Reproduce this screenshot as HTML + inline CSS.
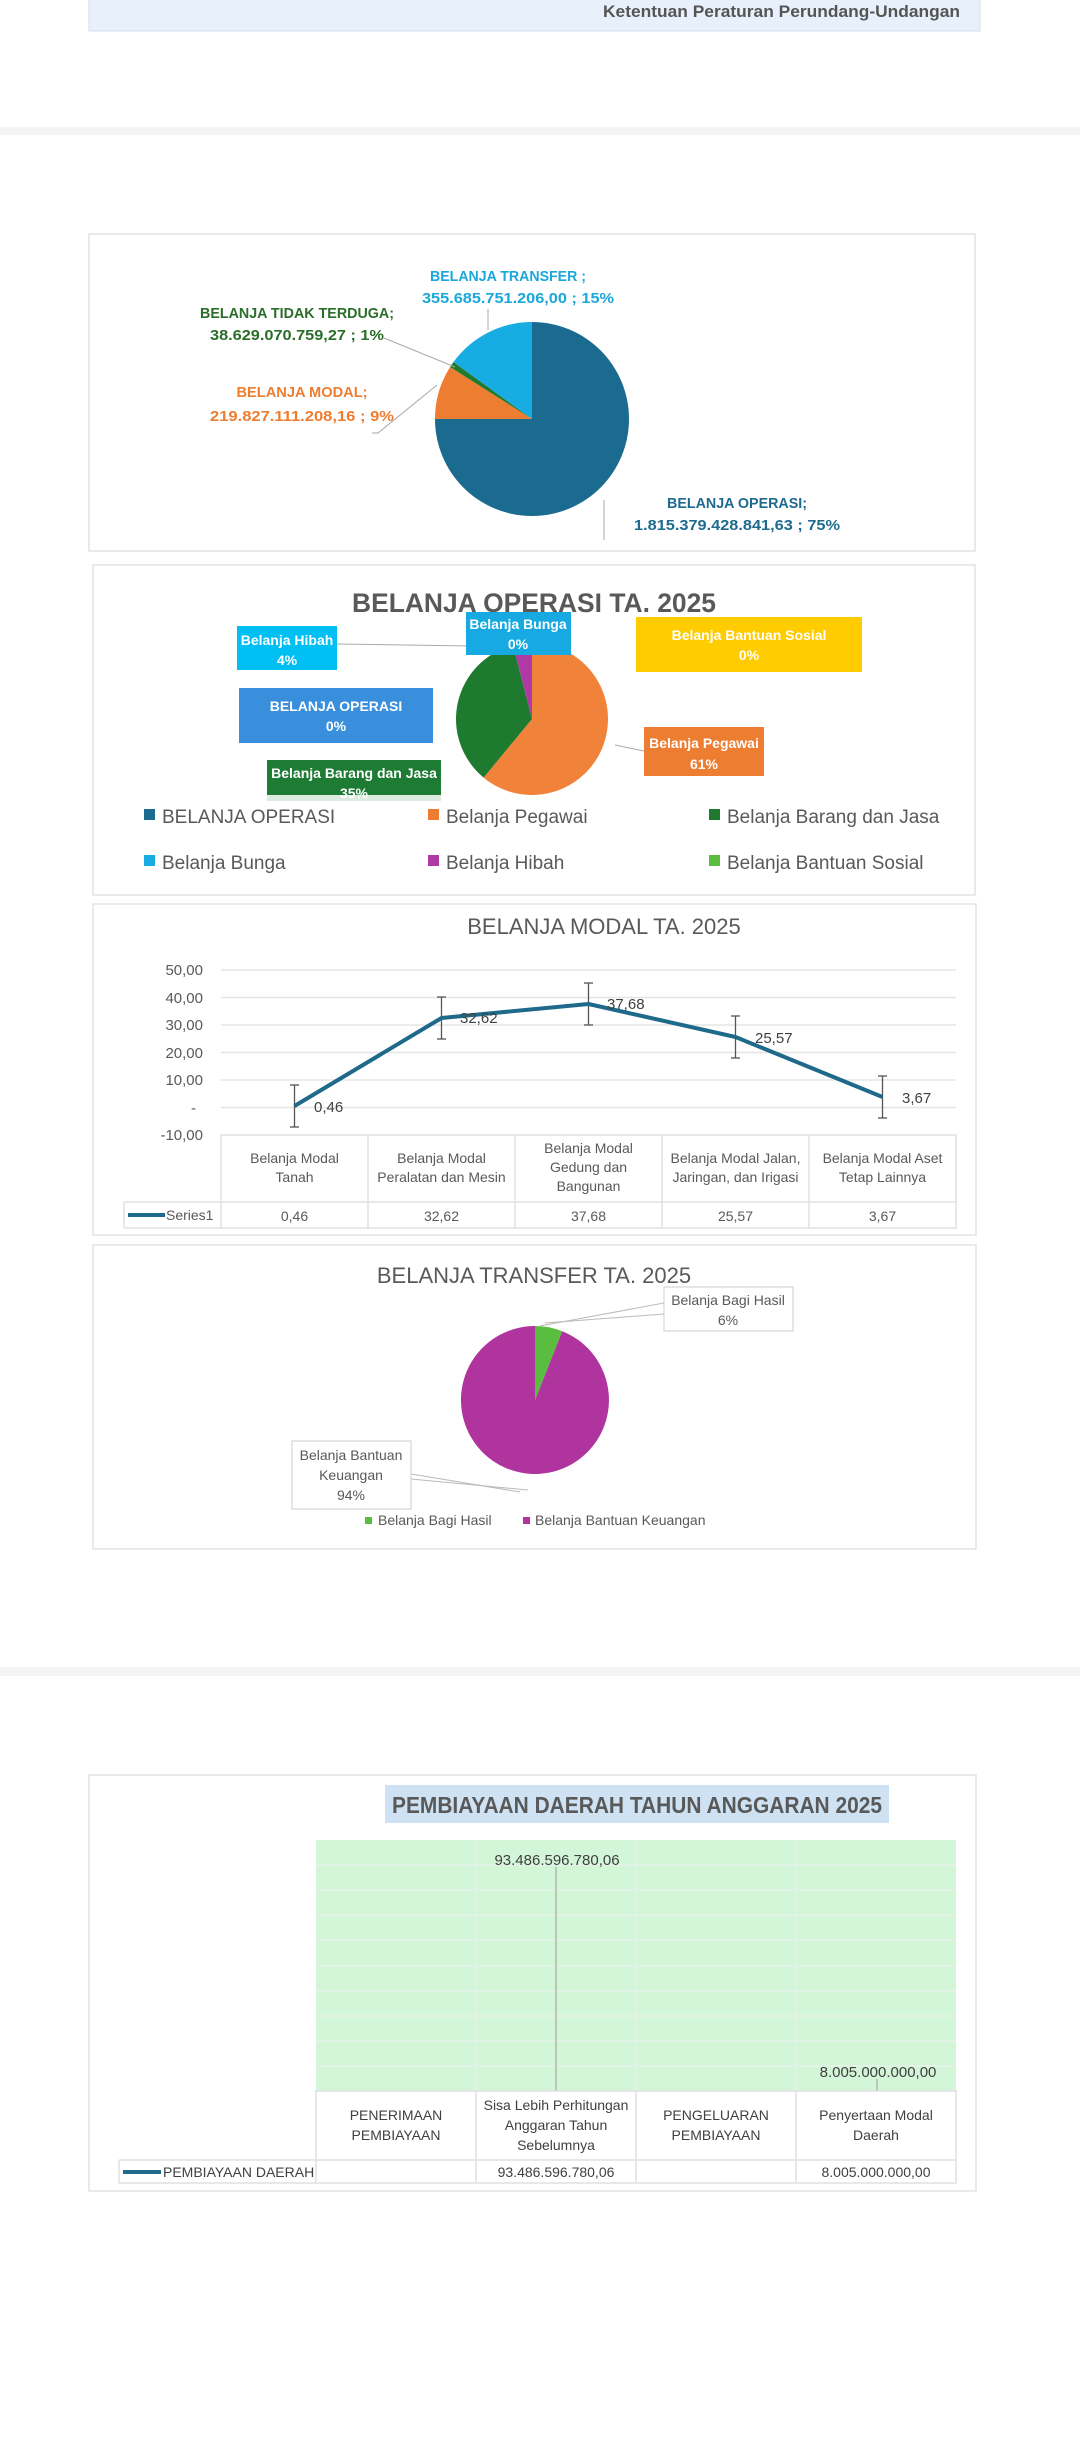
<!DOCTYPE html>
<html><head><meta charset="utf-8"><style>
html,body{margin:0;padding:0;background:#fff;}
svg{display:block;font-family:"Liberation Sans",sans-serif;}
</style></head><body>
<svg width="1080" height="2460" viewBox="0 0 1080 2460" xmlns="http://www.w3.org/2000/svg">
<rect width="1080" height="2460" fill="#fff"/>
<rect x="89" y="-2" width="891" height="33" fill="#e8f1fb" stroke="#d4dfea"/>
<text x="960" y="17" text-anchor="end" font-size="17" font-weight="bold" fill="#555" textLength="357" lengthAdjust="spacingAndGlyphs">Ketentuan Peraturan Perundang-Undangan</text>
<rect x="0" y="127" width="1080" height="8" fill="#f4f4f4"/>

<!-- Chart 1 -->
<rect x="89" y="234" width="886" height="317" fill="#fff" stroke="#e3e3e3" stroke-width="1.5"/>
<path d="M532,419 L532,322 A97,97 0 1 1 435,419 Z" fill="#1b6a8f"/>
<path d="M532,419 L435,419 A97,97 0 0 1 450.1,367 Z" fill="#ed7d31"/>
<path d="M532,419 L450.1,367 A97,97 0 0 1 453.5,362 Z" fill="#1f7a2e"/>
<path d="M532,419 L453.5,362 A97,97 0 0 1 532,322 Z" fill="#17ade3"/>
<g stroke="#aaa" stroke-width="1" fill="none">
<line x1="604" y1="500" x2="604" y2="540"/>
<line x1="488" y1="309" x2="488" y2="330"/>
<polyline points="384,338 455,367"/>
<polyline points="372,433 378,433 437,385"/>
</g>
<g font-size="15" font-weight="bold" text-anchor="middle" lengthAdjust="spacingAndGlyphs">
<text x="508" y="281" fill="#1aa7d9" textLength="156" lengthAdjust="spacingAndGlyphs">BELANJA TRANSFER ;</text>
<text x="518" y="303" fill="#1aa7d9" textLength="192" lengthAdjust="spacingAndGlyphs">355.685.751.206,00 ; 15%</text>
<text x="297" y="318" fill="#2a6e2a" textLength="194" lengthAdjust="spacingAndGlyphs">BELANJA TIDAK TERDUGA;</text>
<text x="297" y="340" fill="#2a6e2a" textLength="174" lengthAdjust="spacingAndGlyphs">38.629.070.759,27 ; 1%</text>
<text x="302" y="397" fill="#ed7d31" textLength="131" lengthAdjust="spacingAndGlyphs">BELANJA MODAL;</text>
<text x="302" y="421" fill="#ed7d31" textLength="184" lengthAdjust="spacingAndGlyphs">219.827.111.208,16 ; 9%</text>
<text x="737" y="508" fill="#1f6a8f" textLength="140" lengthAdjust="spacingAndGlyphs">BELANJA OPERASI;</text>
<text x="737" y="530" fill="#1f6a8f" textLength="206" lengthAdjust="spacingAndGlyphs">1.815.379.428.841,63 ; 75%</text>
</g>

<!-- Chart 2 -->
<rect x="93" y="565" width="882" height="330" fill="#fff" stroke="#e3e3e3" stroke-width="1.5"/>
<text x="534" y="612" text-anchor="middle" font-size="27" font-weight="bold" fill="#595959" textLength="364" lengthAdjust="spacingAndGlyphs">BELANJA OPERASI TA. 2025</text>
<path d="M532,719 L532,643 A76,76 0 1 1 483.6,777.6 Z" fill="#f0823a"/>
<path d="M532,719 L483.6,777.6 A76,76 0 0 1 513.1,645.4 Z" fill="#1e7a2e"/>
<path d="M532,719 L513.1,645.4 A76,76 0 0 1 532,643 Z" fill="#b03aa5"/>
<g stroke="#aaa" fill="none"><line x1="337" y1="644" x2="470" y2="646"/><line x1="615" y1="745" x2="644" y2="751"/></g>
<g font-size="14" font-weight="bold" fill="#fff" text-anchor="middle">
<rect x="237" y="626" width="100" height="44" fill="#00bff3"/>
<text x="287" y="645">Belanja Hibah</text><text x="287" y="665">4%</text>
<rect x="466" y="612" width="105" height="43" fill="#17a9e1"/>
<text x="518" y="629">Belanja Bunga</text><text x="518" y="649">0%</text>
<rect x="636" y="617" width="226" height="55" fill="#ffcc00"/>
<text x="749" y="640">Belanja Bantuan Sosial</text><text x="749" y="660">0%</text>
<rect x="239" y="688" width="194" height="55" fill="#3a8fdc"/>
<text x="336" y="711">BELANJA OPERASI</text><text x="336" y="731">0%</text>
<rect x="644" y="727" width="120" height="49" fill="#ed7d31"/>
<text x="704" y="748">Belanja Pegawai</text><text x="704" y="769">61%</text>
<rect x="267" y="760" width="174" height="41" fill="#1e7b34"/>
<text x="354" y="778">Belanja Barang dan Jasa</text><text x="354" y="798">35%</text>
</g>
<rect x="112" y="795" width="845" height="95" fill="#fff" fill-opacity="0.85"/>
<g font-size="19" fill="#595959">
<rect x="144" y="809" width="11" height="11" fill="#1b6a8f"/><text x="162" y="823">BELANJA OPERASI</text>
<rect x="428" y="809" width="11" height="11" fill="#ed7d31"/><text x="446" y="823">Belanja Pegawai</text>
<rect x="709" y="809" width="11" height="11" fill="#1e7a2e"/><text x="727" y="823">Belanja Barang dan Jasa</text>
<rect x="144" y="855" width="11" height="11" fill="#17ade3"/><text x="162" y="869">Belanja Bunga</text>
<rect x="428" y="855" width="11" height="11" fill="#b03aa5"/><text x="446" y="869">Belanja Hibah</text>
<rect x="709" y="855" width="11" height="11" fill="#5bbd3f"/><text x="727" y="869">Belanja Bantuan Sosial</text>
</g>

<!-- Chart 3 -->
<rect x="93" y="904" width="883" height="331" fill="#fff" stroke="#e3e3e3" stroke-width="1.5"/>
<text x="604" y="934" text-anchor="middle" font-size="22" fill="#595959">BELANJA MODAL TA. 2025</text>
<g stroke="#e5e5e5" stroke-width="1.5">
<line x1="221" y1="970" x2="956" y2="970"/><line x1="221" y1="997.5" x2="956" y2="997.5"/>
<line x1="221" y1="1025" x2="956" y2="1025"/><line x1="221" y1="1052.5" x2="956" y2="1052.5"/>
<line x1="221" y1="1080" x2="956" y2="1080"/><line x1="221" y1="1107.5" x2="956" y2="1107.5"/>
</g>
<g font-size="15" fill="#595959" text-anchor="end">
<text x="203" y="975">50,00</text><text x="203" y="1003">40,00</text><text x="203" y="1030">30,00</text>
<text x="203" y="1058">20,00</text><text x="203" y="1085">10,00</text><text x="196" y="1113">-</text><text x="203" y="1140">-10,00</text>
</g>
<g stroke="#e0e0e0" stroke-width="1.5" fill="none">
<rect x="221" y="1135" width="735" height="93"/>
<line x1="124" y1="1202" x2="956" y2="1202"/><line x1="124" y1="1202" x2="124" y2="1228"/><line x1="124" y1="1228" x2="221" y2="1228"/>
<line x1="368" y1="1135" x2="368" y2="1228"/><line x1="515" y1="1135" x2="515" y2="1228"/>
<line x1="662" y1="1135" x2="662" y2="1228"/><line x1="809" y1="1135" x2="809" y2="1228"/>
</g>
<g stroke="#555" stroke-width="1.3">
<line x1="294.5" y1="1085" x2="294.5" y2="1127"/><line x1="290" y1="1085" x2="299" y2="1085"/><line x1="290" y1="1127" x2="299" y2="1127"/>
<line x1="441.5" y1="997" x2="441.5" y2="1039"/><line x1="437" y1="997" x2="446" y2="997"/><line x1="437" y1="1039" x2="446" y2="1039"/>
<line x1="588.5" y1="983" x2="588.5" y2="1025"/><line x1="584" y1="983" x2="593" y2="983"/><line x1="584" y1="1025" x2="593" y2="1025"/>
<line x1="735.5" y1="1016" x2="735.5" y2="1058"/><line x1="731" y1="1016" x2="740" y2="1016"/><line x1="731" y1="1058" x2="740" y2="1058"/>
<line x1="882.5" y1="1076" x2="882.5" y2="1118"/><line x1="878" y1="1076" x2="887" y2="1076"/><line x1="878" y1="1118" x2="887" y2="1118"/>
</g>
<polyline points="294.5,1106 441.5,1018 588.5,1004 735.5,1037 882.5,1097" fill="none" stroke="#1f6a8a" stroke-width="4" stroke-linejoin="round"/>
<g font-size="15" fill="#404040">
<text x="314" y="1112">0,46</text><text x="460" y="1023">32,62</text><text x="607" y="1009">37,68</text>
<text x="755" y="1043">25,57</text><text x="902" y="1103">3,67</text>
</g>
<g font-size="14" fill="#595959" text-anchor="middle">
<text x="294.5" y="1163">Belanja Modal</text><text x="294.5" y="1182">Tanah</text>
<text x="441.5" y="1163">Belanja Modal</text><text x="441.5" y="1182">Peralatan dan Mesin</text>
<text x="588.5" y="1153">Belanja Modal</text><text x="588.5" y="1172">Gedung dan</text><text x="588.5" y="1191">Bangunan</text>
<text x="735.5" y="1163">Belanja Modal Jalan,</text><text x="735.5" y="1182">Jaringan, dan Irigasi</text>
<text x="882.5" y="1163">Belanja Modal Aset</text><text x="882.5" y="1182">Tetap Lainnya</text>
<text x="294.5" y="1221">0,46</text><text x="441.5" y="1221">32,62</text><text x="588.5" y="1221">37,68</text>
<text x="735.5" y="1221">25,57</text><text x="882.5" y="1221">3,67</text>
</g>
<line x1="128" y1="1215" x2="165" y2="1215" stroke="#1f6a8a" stroke-width="4"/>
<text x="166" y="1220" font-size="14" fill="#595959">Series1</text>

<!-- Chart 4 -->
<rect x="93" y="1245" width="883" height="304" fill="#fff" stroke="#e3e3e3" stroke-width="1.5"/>
<text x="534" y="1283" text-anchor="middle" font-size="22" fill="#595959">BELANJA TRANSFER TA. 2025</text>
<path d="M535,1400 L562.2,1331.2 A74,74 0 1 1 535,1326 Z" fill="#b0349e"/>
<path d="M535,1400 L535,1326 A74,74 0 0 1 562.2,1331.2 Z" fill="#5bbd3f"/>
<g stroke="#bbb" fill="none"><polyline points="664,1303 540,1326"/><polyline points="664,1314 545,1323"/><polyline points="411,1474 520,1492"/><polyline points="411,1479 528,1490"/></g>
<rect x="664" y="1287" width="129" height="44" fill="#fff" stroke="#ccc"/>
<rect x="292" y="1441" width="119" height="68" fill="#fff" stroke="#ccc"/>
<g font-size="14" fill="#595959" text-anchor="middle">
<text x="728" y="1305">Belanja Bagi Hasil</text><text x="728" y="1325">6%</text>
<text x="351" y="1460">Belanja Bantuan</text><text x="351" y="1480">Keuangan</text><text x="351" y="1500">94%</text>
</g>
<g font-size="14" fill="#595959">
<rect x="365" y="1517" width="7" height="7" fill="#5bbd3f"/><text x="378" y="1525">Belanja Bagi Hasil</text>
<rect x="523" y="1517" width="7" height="7" fill="#b0349e"/><text x="535" y="1525">Belanja Bantuan Keuangan</text>
</g>

<rect x="0" y="1667" width="1080" height="9" fill="#f4f4f4"/>

<!-- Chart 5 -->
<rect x="89" y="1775" width="887" height="416" fill="#fff" stroke="#e3e3e3" stroke-width="1.5"/>
<rect x="385" y="1785" width="504" height="38" fill="#cfe2f3"/>
<text x="637" y="1813" text-anchor="middle" font-size="23" font-weight="bold" fill="#595959" textLength="490" lengthAdjust="spacingAndGlyphs">PEMBIAYAAN DAERAH TAHUN ANGGARAN 2025</text>
<rect x="316" y="1840" width="640" height="251" fill="#d3f6d8"/>
<g stroke="#e6f2e8" stroke-width="1.5">
<line x1="316" y1="1865" x2="956" y2="1865"/><line x1="316" y1="1890" x2="956" y2="1890"/><line x1="316" y1="1915" x2="956" y2="1915"/>
<line x1="316" y1="1940" x2="956" y2="1940"/><line x1="316" y1="1966" x2="956" y2="1966"/><line x1="316" y1="1991" x2="956" y2="1991"/>
<line x1="316" y1="2016" x2="956" y2="2016"/><line x1="316" y1="2041" x2="956" y2="2041"/><line x1="316" y1="2066" x2="956" y2="2066"/>
<line x1="476" y1="1840" x2="476" y2="2091"/><line x1="636" y1="1840" x2="636" y2="2091"/><line x1="796" y1="1840" x2="796" y2="2091"/>
</g>
<line x1="556" y1="1867" x2="556" y2="2091" stroke="#999"/>
<line x1="877" y1="2079" x2="877" y2="2091" stroke="#999"/>
<g font-size="15" fill="#404040" text-anchor="middle">
<text x="557" y="1865">93.486.596.780,06</text><text x="878" y="2077">8.005.000.000,00</text>
</g>
<g stroke="#e0e0e0" stroke-width="1.5" fill="none">
<rect x="316" y="2091" width="640" height="92"/>
<line x1="119" y1="2160" x2="956" y2="2160"/><line x1="119" y1="2160" x2="119" y2="2183"/><line x1="119" y1="2183" x2="316" y2="2183"/>
<line x1="476" y1="2091" x2="476" y2="2183"/><line x1="636" y1="2091" x2="636" y2="2183"/><line x1="796" y1="2091" x2="796" y2="2183"/>
</g>
<g font-size="14" fill="#404040" text-anchor="middle">
<text x="396" y="2120">PENERIMAAN</text><text x="396" y="2140">PEMBIAYAAN</text>
<text x="556" y="2110">Sisa Lebih Perhitungan</text><text x="556" y="2130">Anggaran Tahun</text><text x="556" y="2150">Sebelumnya</text>
<text x="716" y="2120">PENGELUARAN</text><text x="716" y="2140">PEMBIAYAAN</text>
<text x="876" y="2120">Penyertaan Modal</text><text x="876" y="2140">Daerah</text>
<text x="556" y="2177">93.486.596.780,06</text><text x="876" y="2177">8.005.000.000,00</text>
</g>
<line x1="123" y1="2172" x2="161" y2="2172" stroke="#1f6a8a" stroke-width="4"/>
<text x="163" y="2177" font-size="14" fill="#404040">PEMBIAYAAN DAERAH</text>
</svg>
</body></html>
